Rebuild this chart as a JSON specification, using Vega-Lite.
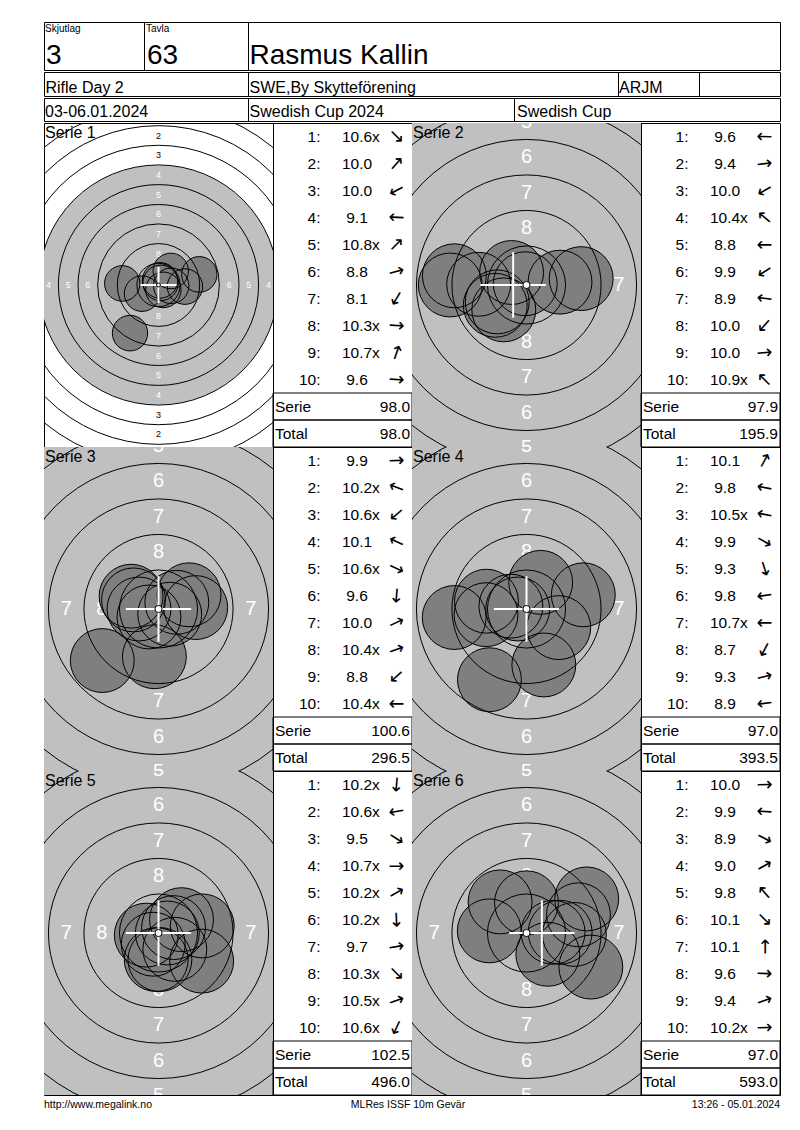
{
  "$schema": "https://vega.github.io/schema/vega-lite/v6.json",
  "description": "MLRes score card: Rasmus Kallin, Swedish Cup 2024, six series of 10m air rifle with shot plots.",
  "padding": {"left": 43, "top": 21, "right": 10, "bottom": 10},
  "spacing": 0,
  "config": {
    "view": {"stroke": "black", "strokeWidth": 1},
    "font": "Liberation Sans",
    "axis": {"disable": true},
    "legend": {"disable": true},
    "text": {"color": "black"}
  },
  "datasets": {
    "disk": [{"r": 15.25}],
    "ten": [{"r": 0.25}],
    "rings": [
      {"ring": 1, "r": 22.75}, {"ring": 2, "r": 20.25}, {"ring": 3, "r": 17.75},
      {"ring": 4, "r": 15.25}, {"ring": 5, "r": 12.75}, {"ring": 6, "r": 10.25},
      {"ring": 7, "r": 7.75}, {"ring": 8, "r": 5.25}, {"ring": 9, "r": 2.75}
    ],
    "labels": [
      {"t": "2", "x": 0, "y": 19, "zone": "paper"}, {"t": "2", "x": 0, "y": -19, "zone": "paper"},
      {"t": "2", "x": -19, "y": 0, "zone": "paper"}, {"t": "2", "x": 19, "y": 0, "zone": "paper"},
      {"t": "3", "x": 0, "y": 16.5, "zone": "paper"}, {"t": "3", "x": 0, "y": -16.5, "zone": "paper"},
      {"t": "3", "x": -16.5, "y": 0, "zone": "paper"}, {"t": "3", "x": 16.5, "y": 0, "zone": "paper"},
      {"t": "4", "x": 0, "y": 14, "zone": "mark"}, {"t": "4", "x": 0, "y": -14, "zone": "mark"},
      {"t": "4", "x": -14, "y": 0, "zone": "mark"}, {"t": "4", "x": 14, "y": 0, "zone": "mark"},
      {"t": "5", "x": 0, "y": 11.5, "zone": "mark"}, {"t": "5", "x": 0, "y": -11.5, "zone": "mark"},
      {"t": "5", "x": -11.5, "y": 0, "zone": "mark"}, {"t": "5", "x": 11.5, "y": 0, "zone": "mark"},
      {"t": "6", "x": 0, "y": 9, "zone": "mark"}, {"t": "6", "x": 0, "y": -9, "zone": "mark"},
      {"t": "6", "x": -9, "y": 0, "zone": "mark"}, {"t": "6", "x": 9, "y": 0, "zone": "mark"},
      {"t": "7", "x": 0, "y": 6.5, "zone": "mark"}, {"t": "7", "x": 0, "y": -6.5, "zone": "mark"},
      {"t": "7", "x": -6.5, "y": 0, "zone": "mark"}, {"t": "7", "x": 6.5, "y": 0, "zone": "mark"},
      {"t": "8", "x": 0, "y": 4, "zone": "mark"}, {"t": "8", "x": 0, "y": -4, "zone": "mark"},
      {"t": "8", "x": -4, "y": 0, "zone": "mark"}, {"t": "8", "x": 4, "y": 0, "zone": "mark"}
    ],
    "series": [
      {"s": 1, "name": "Serie 1", "cx": 0, "cy": 0, "Serie": 98.0, "Total": 98.0},
      {"s": 2, "name": "Serie 2", "cx": -0.94, "cy": 0, "Serie": 97.9, "Total": 195.9},
      {"s": 3, "name": "Serie 3", "cx": 0, "cy": 0, "Serie": 100.6, "Total": 296.5},
      {"s": 4, "name": "Serie 4", "cx": 0, "cy": 0, "Serie": 97.0, "Total": 393.5},
      {"s": 5, "name": "Serie 5", "cx": 0, "cy": 0, "Serie": 102.5, "Total": 496.0},
      {"s": 6, "name": "Serie 6", "cx": 1.08, "cy": 0, "Serie": 97.0, "Total": 593.0}
    ],
    "shots": [
      {"s": 1, "row": "1:", "score": 10.6, "inner": "x", "ang": 45, "x": 0.62, "y": -0.62},
      {"s": 1, "row": "2:", "score": 10.0, "inner": "", "ang": -48.9, "x": 1.56, "y": 1.79},
      {"s": 1, "row": "3:", "score": 10.0, "inner": "", "ang": 152.4, "x": -2.1, "y": -1.1},
      {"s": 1, "row": "4:", "score": 9.1, "inner": "", "ang": -177.5, "x": -4.62, "y": 0.2},
      {"s": 1, "row": "5:", "score": 10.8, "inner": "x", "ang": -45, "x": 0.27, "y": 0.27},
      {"s": 1, "row": "6:", "score": 8.8, "inner": "", "ang": -14.6, "x": 5.2, "y": 1.35},
      {"s": 1, "row": "7:", "score": 8.1, "inner": "", "ang": 120.6, "x": -3.63, "y": -6.13},
      {"s": 1, "row": "8:", "score": 10.3, "inner": "x", "ang": 3.5, "x": 1.62, "y": -0.1},
      {"s": 1, "row": "9:", "score": 10.7, "inner": "x", "ang": -71.3, "x": 0.2, "y": 0.59},
      {"s": 1, "row": "10:", "score": 9.6, "inner": "", "ang": 3.4, "x": 3.37, "y": -0.2},
      {"s": 2, "row": "1:", "score": 9.6, "inner": "", "ang": -179.1, "x": -3.37, "y": 0.05},
      {"s": 2, "row": "2:", "score": 9.4, "inner": "", "ang": -6.7, "x": 3.85, "y": 0.45},
      {"s": 2, "row": "3:", "score": 10.0, "inner": "", "ang": 150, "x": -2.06, "y": -1.19},
      {"s": 2, "row": "4:", "score": 10.4, "inner": "x", "ang": -140, "x": -1.05, "y": 0.88},
      {"s": 2, "row": "5:", "score": 8.8, "inner": "", "ang": 180, "x": -5.37, "y": 0},
      {"s": 2, "row": "6:", "score": 9.9, "inner": "", "ang": 147, "x": -2.2, "y": -1.43},
      {"s": 2, "row": "7:", "score": 8.9, "inner": "", "ang": -172.7, "x": -5.08, "y": 0.65},
      {"s": 2, "row": "8:", "score": 10.0, "inner": "", "ang": 132, "x": -1.6, "y": -1.75},
      {"s": 2, "row": "9:", "score": 10.0, "inner": "", "ang": -4.8, "x": 2.36, "y": 0.2},
      {"s": 2, "row": "10:", "score": 10.9, "inner": "x", "ang": -135, "x": -0.09, "y": 0.09},
      {"s": 3, "row": "1:", "score": 9.9, "inner": "", "ang": -2.2, "x": 2.62, "y": 0.1},
      {"s": 3, "row": "2:", "score": 10.2, "inner": "x", "ang": -160, "x": -1.76, "y": 0.64},
      {"s": 3, "row": "3:", "score": 10.6, "inner": "x", "ang": 140.1, "x": -0.67, "y": -0.56},
      {"s": 3, "row": "4:", "score": 10.1, "inner": "", "ang": -155, "x": -1.93, "y": 0.9},
      {"s": 3, "row": "5:", "score": 10.6, "inner": "x", "ang": 25.1, "x": 0.79, "y": -0.37},
      {"s": 3, "row": "6:", "score": 9.6, "inner": "", "ang": 94.9, "x": -0.29, "y": -3.36},
      {"s": 3, "row": "7:", "score": 10.0, "inner": "", "ang": -24.9, "x": 2.15, "y": 1.0},
      {"s": 3, "row": "8:", "score": 10.4, "inner": "x", "ang": -20, "x": 1.29, "y": 0.47},
      {"s": 3, "row": "9:", "score": 8.8, "inner": "", "ang": 137.5, "x": -3.96, "y": -3.63},
      {"s": 3, "row": "10:", "score": 10.4, "inner": "x", "ang": 180, "x": -1.375, "y": 0},
      {"s": 4, "row": "1:", "score": 10.1, "inner": "", "ang": -61.9, "x": 1.0, "y": 1.875},
      {"s": 4, "row": "2:", "score": 9.8, "inner": "", "ang": -169, "x": -2.82, "y": 0.55},
      {"s": 4, "row": "3:", "score": 10.5, "inner": "x", "ang": -169.7, "x": -1.1, "y": 0.2},
      {"s": 4, "row": "4:", "score": 9.9, "inner": "", "ang": 30, "x": 2.27, "y": -1.31},
      {"s": 4, "row": "5:", "score": 9.3, "inner": "", "ang": 72.8, "x": 1.22, "y": -3.94},
      {"s": 4, "row": "6:", "score": 9.8, "inner": "", "ang": 172, "x": -2.85, "y": -0.4},
      {"s": 4, "row": "7:", "score": 10.7, "inner": "x", "ang": 180, "x": -0.62, "y": 0},
      {"s": 4, "row": "8:", "score": 8.7, "inner": "", "ang": 117.7, "x": -2.61, "y": -4.98},
      {"s": 4, "row": "9:", "score": 9.3, "inner": "", "ang": -14, "x": 4.0, "y": 1.0},
      {"s": 4, "row": "10:", "score": 8.9, "inner": "", "ang": 173.3, "x": -5.09, "y": -0.6},
      {"s": 5, "row": "1:", "score": 10.2, "inner": "x", "ang": 94.9, "x": -0.16, "y": -1.87},
      {"s": 5, "row": "2:", "score": 10.6, "inner": "x", "ang": 170.1, "x": -0.86, "y": -0.15},
      {"s": 5, "row": "3:", "score": 9.5, "inner": "", "ang": 33.1, "x": 3.04, "y": -1.98},
      {"s": 5, "row": "4:", "score": 10.7, "inner": "x", "ang": 0, "x": 0.62, "y": 0},
      {"s": 5, "row": "5:", "score": 10.2, "inner": "x", "ang": -30.1, "x": 1.62, "y": 0.94},
      {"s": 5, "row": "6:", "score": 10.2, "inner": "x", "ang": 86.9, "x": 0.1, "y": -1.87},
      {"s": 5, "row": "7:", "score": 9.7, "inner": "", "ang": -9.2, "x": 3.08, "y": 0.5},
      {"s": 5, "row": "8:", "score": 10.3, "inner": "x", "ang": 45, "x": 1.15, "y": -1.15},
      {"s": 5, "row": "9:", "score": 10.5, "inner": "x", "ang": -19.7, "x": 1.06, "y": 0.38},
      {"s": 5, "row": "10:", "score": 10.6, "inner": "x", "ang": 115.1, "x": -0.37, "y": -0.79},
      {"s": 6, "row": "1:", "score": 10.0, "inner": "", "ang": -1.2, "x": 2.37, "y": 0.05},
      {"s": 6, "row": "2:", "score": 9.9, "inner": "", "ang": -176.7, "x": -2.62, "y": 0.15},
      {"s": 6, "row": "3:", "score": 8.9, "inner": "", "ang": 27.9, "x": 4.53, "y": -2.4},
      {"s": 6, "row": "4:", "score": 9.0, "inner": "", "ang": -29.5, "x": 4.24, "y": 2.4},
      {"s": 6, "row": "5:", "score": 9.8, "inner": "", "ang": -130.3, "x": -1.86, "y": 2.19},
      {"s": 6, "row": "6:", "score": 10.1, "inner": "", "ang": 45, "x": 1.5, "y": -1.5},
      {"s": 6, "row": "7:", "score": 10.1, "inner": "", "ang": -90, "x": 0, "y": 2.125},
      {"s": 6, "row": "8:", "score": 9.6, "inner": "", "ang": 1.7, "x": 3.37, "y": -0.1},
      {"s": 6, "row": "9:", "score": 9.4, "inner": "", "ang": -19.3, "x": 3.66, "y": 1.28},
      {"s": 6, "row": "10:", "score": 10.2, "inner": "x", "ang": -1.5, "x": 1.87, "y": 0.05}
    ]
  },
  "vconcat": [
    {
      "spacing": 0,
      "bounds": "flush",
      "hconcat": [
        {
          "width": 100, "height": 48,
          "data": {"values": [{"label": "Skjutlag", "value": "3"}]},
          "layer": [
            {"mark": {"type": "text", "align": "left", "baseline": "alphabetic", "fontSize": 10}, "encoding": {"text": {"field": "label"}, "x": {"value": 1}, "y": {"value": 10}}},
            {"mark": {"type": "text", "align": "left", "baseline": "alphabetic", "fontSize": 28}, "encoding": {"text": {"field": "value"}, "x": {"value": 2}, "y": {"value": 42}}}
          ]
        },
        {
          "width": 104, "height": 48,
          "data": {"values": [{"label": "Tavla", "value": "63"}]},
          "layer": [
            {"mark": {"type": "text", "align": "left", "baseline": "alphabetic", "fontSize": 10}, "encoding": {"text": {"field": "label"}, "x": {"value": 2}, "y": {"value": 10}}},
            {"mark": {"type": "text", "align": "left", "baseline": "alphabetic", "fontSize": 28}, "encoding": {"text": {"field": "value"}, "x": {"value": 3}, "y": {"value": 42}}}
          ]
        },
        {
          "width": 532, "height": 48,
          "data": {"values": [{"value": "Rasmus Kallin"}]},
          "mark": {"type": "text", "align": "left", "baseline": "alphabetic", "fontSize": 28},
          "encoding": {"text": {"field": "value"}, "x": {"value": 1.5}, "y": {"value": 42}}
        }
      ]
    },
    {
      "spacing": 0,
      "bounds": "flush",
      "hconcat": [
        {"width": 204, "height": 24, "data": {"values": [{"t": "Rifle Day 2"}]}, "mark": {"type": "text", "align": "left", "baseline": "alphabetic", "fontSize": 16}, "encoding": {"text": {"field": "t"}, "x": {"value": 1.5}, "y": {"value": 20.5}}},
        {"width": 370, "height": 24, "data": {"values": [{"t": "SWE,By Skytteförening"}]}, "mark": {"type": "text", "align": "left", "baseline": "alphabetic", "fontSize": 16}, "encoding": {"text": {"field": "t"}, "x": {"value": 1.5}, "y": {"value": 20.5}}},
        {"width": 81, "height": 24, "data": {"values": [{"t": "ARJM"}]}, "mark": {"type": "text", "align": "left", "baseline": "alphabetic", "fontSize": 16}, "encoding": {"text": {"field": "t"}, "x": {"value": 1}, "y": {"value": 20.5}}},
        {"width": 81, "height": 24, "data": {"values": [{"t": ""}]}, "mark": {"type": "text", "align": "left", "baseline": "alphabetic", "fontSize": 16}, "encoding": {"text": {"field": "t"}, "x": {"value": 1}, "y": {"value": 20.5}}}
      ]
    },
    {
      "spacing": 0,
      "bounds": "flush",
      "hconcat": [
        {"width": 204, "height": 23, "data": {"values": [{"t": "03-06.01.2024"}]}, "mark": {"type": "text", "align": "left", "baseline": "alphabetic", "fontSize": 16}, "encoding": {"text": {"field": "t"}, "x": {"value": 1}, "y": {"value": 19}}},
        {"width": 266, "height": 23, "data": {"values": [{"t": "Swedish Cup 2024"}]}, "mark": {"type": "text", "align": "left", "baseline": "alphabetic", "fontSize": 16}, "encoding": {"text": {"field": "t"}, "x": {"value": 1.5}, "y": {"value": 19}}},
        {"width": 266, "height": 23, "data": {"values": [{"t": "Swedish Cup"}]}, "mark": {"type": "text", "align": "left", "baseline": "alphabetic", "fontSize": 16}, "encoding": {"text": {"field": "t"}, "x": {"value": 3}, "y": {"value": 19}}}
      ]
    },
    {
      "columns": 4,
      "spacing": 0,
      "bounds": "flush",
      "resolve": {"scale": {"size": "independent", "color": "independent", "radius": "independent"}},
      "concat": [
        {
          "width": 229, "height": 324,
          "layer": [
            {"data": {"name": "disk"}, "mark": {"type": "arc", "color": "#c0c0c0", "theta": 0, "theta2": 6.2832, "clip": true},
             "encoding": {"radius": {"field": "r", "type": "quantitative", "scale": {"type": "linear", "zero": true, "domain": [0, 10], "range": [0, 78.5]}}}},
            {"data": {"name": "labels"}, "mark": {"type": "text", "fontSize": 9, "align": "center", "baseline": "middle", "clip": true},
             "encoding": {"x": {"field": "x", "type": "quantitative", "scale": {"domain": [-14.586, 14.586], "nice": false, "zero": false}}, "y": {"field": "y", "type": "quantitative", "scale": {"domain": [-20.637, 20.637], "nice": false, "zero": false}}, "text": {"field": "t"}, "color": {"field": "zone", "type": "nominal", "scale": {"domain": ["mark", "paper"], "range": ["#ffffff", "#000000"]}}}},
            {"data": {"name": "shots"}, "transform": [{"filter": "datum.s == 1"}], "mark": {"type": "point", "shape": "circle", "filled": true, "color": "#7f7f7f", "opacity": 1, "strokeWidth": 0, "clip": true},
             "encoding": {"x": {"field": "x", "type": "quantitative"}, "y": {"field": "y", "type": "quantitative"}, "size": {"datum": 2.25, "type": "quantitative", "scale": {"type": "pow", "exponent": 2, "domain": [0, 10], "range": [0, 24649]}}}},
            {"data": {"name": "shots"}, "transform": [{"filter": "datum.s == 1"}], "mark": {"type": "point", "shape": "circle", "filled": false, "color": "black", "opacity": 1, "strokeWidth": 1, "clip": true},
             "encoding": {"x": {"field": "x", "type": "quantitative"}, "y": {"field": "y", "type": "quantitative"}, "size": {"datum": 2.25, "type": "quantitative"}}},
            {"data": {"name": "rings"}, "mark": {"type": "point", "shape": "circle", "filled": false, "color": "black", "opacity": 1, "strokeWidth": 1, "clip": true},
             "encoding": {"x": {"datum": 0, "type": "quantitative"}, "y": {"datum": 0, "type": "quantitative"}, "size": {"field": "r", "type": "quantitative"}}},
            {"data": {"name": "series"}, "transform": [{"filter": "datum.s == 1"}], "mark": {"type": "point", "shape": "M-1,0L1,0M0,-1L0,1", "filled": false, "color": "white", "opacity": 1, "strokeWidth": 2, "clip": true},
             "encoding": {"x": {"field": "cx", "type": "quantitative"}, "y": {"field": "cy", "type": "quantitative"}, "size": {"datum": 2.3, "type": "quantitative"}}},
            {"data": {"name": "ten"}, "mark": {"type": "point", "shape": "circle", "filled": true, "fill": "white", "stroke": "black", "strokeWidth": 1, "opacity": 1, "clip": true},
             "encoding": {"x": {"datum": 0, "type": "quantitative"}, "y": {"datum": 0, "type": "quantitative"}, "size": {"field": "r", "type": "quantitative"}}},
            {"data": {"name": "series"}, "transform": [{"filter": "datum.s == 1"}], "mark": {"type": "text", "align": "left", "baseline": "alphabetic", "fontSize": 16},
             "encoding": {"text": {"field": "name"}, "x": {"value": 1}, "y": {"value": 15}}}
          ]
        },
        {
          "width": 139, "height": 324,
          "layer": [
            {"data": {"name": "shots"}, "transform": [{"filter": "datum.s == 1"}], "mark": {"type": "text", "align": "right", "baseline": "middle", "fontSize": 15.5},
             "encoding": {"y": {"field": "row", "type": "ordinal", "scale": {"type": "band", "domain": ["1:", "2:", "3:", "4:", "5:", "6:", "7:", "8:", "9:", "10:", "Serie", "Total"], "paddingInner": 0, "paddingOuter": 0}}, "x": {"value": 47.5}, "text": {"field": "row"}}},
            {"data": {"name": "shots"}, "transform": [{"filter": "datum.s == 1"}], "mark": {"type": "text", "align": "center", "baseline": "middle", "fontSize": 15.5},
             "encoding": {"y": {"field": "row", "type": "ordinal"}, "x": {"value": 84}, "text": {"field": "score", "type": "quantitative", "format": ".1f"}}},
            {"data": {"name": "shots"}, "transform": [{"filter": "datum.s == 1"}], "mark": {"type": "text", "align": "left", "baseline": "middle", "fontSize": 15.5},
             "encoding": {"y": {"field": "row", "type": "ordinal"}, "x": {"value": 99}, "text": {"field": "inner"}}},
            {"data": {"name": "shots"}, "transform": [{"filter": "datum.s == 1"}], "mark": {"type": "text", "align": "center", "baseline": "middle", "font": "DejaVu Sans", "fontSize": 19},
             "encoding": {"y": {"field": "row", "type": "ordinal"}, "x": {"value": 123.5}, "text": {"value": "→"}, "angle": {"field": "ang", "type": "quantitative", "scale": null}}},
            {"data": {"name": "series"}, "transform": [{"filter": "datum.s == 1"}, {"fold": ["Serie", "Total"], "as": ["row", "val"]}], "mark": {"type": "rect", "fill": "transparent", "stroke": "black", "strokeWidth": 1},
             "encoding": {"y": {"field": "row", "type": "ordinal"}}},
            {"data": {"name": "series"}, "transform": [{"filter": "datum.s == 1"}, {"fold": ["Serie", "Total"], "as": ["row", "val"]}], "mark": {"type": "text", "align": "left", "baseline": "middle", "fontSize": 15.5},
             "encoding": {"y": {"field": "row", "type": "ordinal"}, "x": {"value": 2}, "text": {"field": "row"}}},
            {"data": {"name": "series"}, "transform": [{"filter": "datum.s == 1"}, {"fold": ["Serie", "Total"], "as": ["row", "val"]}], "mark": {"type": "text", "align": "right", "baseline": "middle", "fontSize": 15.5},
             "encoding": {"y": {"field": "row", "type": "ordinal"}, "x": {"value": 137}, "text": {"field": "val", "type": "quantitative", "format": ".1f"}}}
          ]
        },
        {
          "width": 229, "height": 324,
          "view": {"fill": "#c0c0c0"},
          "layer": [
            {"data": {"name": "disk"}, "mark": {"type": "arc", "color": "#c0c0c0", "theta": 0, "theta2": 6.2832, "clip": true},
             "encoding": {"radius": {"field": "r", "type": "quantitative", "scale": {"type": "linear", "zero": true, "domain": [0, 10], "range": [0, 142]}}}},
            {"data": {"name": "labels"}, "mark": {"type": "text", "fontSize": 20, "align": "center", "baseline": "middle", "clip": true},
             "encoding": {"x": {"field": "x", "type": "quantitative", "scale": {"domain": [-8.063, 8.063], "nice": false, "zero": false}}, "y": {"field": "y", "type": "quantitative", "scale": {"domain": [-11.408, 11.408], "nice": false, "zero": false}}, "text": {"field": "t"}, "color": {"field": "zone", "type": "nominal", "scale": {"domain": ["mark", "paper"], "range": ["#ffffff", "#000000"]}}}},
            {"data": {"name": "shots"}, "transform": [{"filter": "datum.s == 2"}], "mark": {"type": "point", "shape": "circle", "filled": true, "color": "#7f7f7f", "opacity": 1, "strokeWidth": 0, "clip": true},
             "encoding": {"x": {"field": "x", "type": "quantitative"}, "y": {"field": "y", "type": "quantitative"}, "size": {"datum": 2.25, "type": "quantitative", "scale": {"type": "pow", "exponent": 2, "domain": [0, 10], "range": [0, 80656]}}}},
            {"data": {"name": "shots"}, "transform": [{"filter": "datum.s == 2"}], "mark": {"type": "point", "shape": "circle", "filled": false, "color": "black", "opacity": 1, "strokeWidth": 1, "clip": true},
             "encoding": {"x": {"field": "x", "type": "quantitative"}, "y": {"field": "y", "type": "quantitative"}, "size": {"datum": 2.25, "type": "quantitative"}}},
            {"data": {"name": "rings"}, "mark": {"type": "point", "shape": "circle", "filled": false, "color": "black", "opacity": 1, "strokeWidth": 1, "clip": true},
             "encoding": {"x": {"datum": 0, "type": "quantitative"}, "y": {"datum": 0, "type": "quantitative"}, "size": {"field": "r", "type": "quantitative"}}},
            {"data": {"name": "series"}, "transform": [{"filter": "datum.s == 2"}], "mark": {"type": "point", "shape": "M-1,0L1,0M0,-1L0,1", "filled": false, "color": "white", "opacity": 1, "strokeWidth": 2, "clip": true},
             "encoding": {"x": {"field": "cx", "type": "quantitative"}, "y": {"field": "cy", "type": "quantitative"}, "size": {"datum": 2.3, "type": "quantitative"}}},
            {"data": {"name": "ten"}, "mark": {"type": "point", "shape": "circle", "filled": true, "fill": "white", "stroke": "black", "strokeWidth": 1, "opacity": 1, "clip": true},
             "encoding": {"x": {"datum": 0, "type": "quantitative"}, "y": {"datum": 0, "type": "quantitative"}, "size": {"field": "r", "type": "quantitative"}}},
            {"data": {"name": "series"}, "transform": [{"filter": "datum.s == 2"}], "mark": {"type": "text", "align": "left", "baseline": "alphabetic", "fontSize": 16},
             "encoding": {"text": {"field": "name"}, "x": {"value": 1}, "y": {"value": 15}}}
          ]
        },
        {
          "width": 139, "height": 324,
          "layer": [
            {"data": {"name": "shots"}, "transform": [{"filter": "datum.s == 2"}], "mark": {"type": "text", "align": "right", "baseline": "middle", "fontSize": 15.5},
             "encoding": {"y": {"field": "row", "type": "ordinal", "scale": {"type": "band", "domain": ["1:", "2:", "3:", "4:", "5:", "6:", "7:", "8:", "9:", "10:", "Serie", "Total"], "paddingInner": 0, "paddingOuter": 0}}, "x": {"value": 47.5}, "text": {"field": "row"}}},
            {"data": {"name": "shots"}, "transform": [{"filter": "datum.s == 2"}], "mark": {"type": "text", "align": "center", "baseline": "middle", "fontSize": 15.5},
             "encoding": {"y": {"field": "row", "type": "ordinal"}, "x": {"value": 84}, "text": {"field": "score", "type": "quantitative", "format": ".1f"}}},
            {"data": {"name": "shots"}, "transform": [{"filter": "datum.s == 2"}], "mark": {"type": "text", "align": "left", "baseline": "middle", "fontSize": 15.5},
             "encoding": {"y": {"field": "row", "type": "ordinal"}, "x": {"value": 99}, "text": {"field": "inner"}}},
            {"data": {"name": "shots"}, "transform": [{"filter": "datum.s == 2"}], "mark": {"type": "text", "align": "center", "baseline": "middle", "font": "DejaVu Sans", "fontSize": 19},
             "encoding": {"y": {"field": "row", "type": "ordinal"}, "x": {"value": 123.5}, "text": {"value": "→"}, "angle": {"field": "ang", "type": "quantitative", "scale": null}}},
            {"data": {"name": "series"}, "transform": [{"filter": "datum.s == 2"}, {"fold": ["Serie", "Total"], "as": ["row", "val"]}], "mark": {"type": "rect", "fill": "transparent", "stroke": "black", "strokeWidth": 1},
             "encoding": {"y": {"field": "row", "type": "ordinal"}}},
            {"data": {"name": "series"}, "transform": [{"filter": "datum.s == 2"}, {"fold": ["Serie", "Total"], "as": ["row", "val"]}], "mark": {"type": "text", "align": "left", "baseline": "middle", "fontSize": 15.5},
             "encoding": {"y": {"field": "row", "type": "ordinal"}, "x": {"value": 2}, "text": {"field": "row"}}},
            {"data": {"name": "series"}, "transform": [{"filter": "datum.s == 2"}, {"fold": ["Serie", "Total"], "as": ["row", "val"]}], "mark": {"type": "text", "align": "right", "baseline": "middle", "fontSize": 15.5},
             "encoding": {"y": {"field": "row", "type": "ordinal"}, "x": {"value": 137}, "text": {"field": "val", "type": "quantitative", "format": ".1f"}}}
          ]
        },
        {
          "width": 229, "height": 324,
          "view": {"fill": "#c0c0c0"},
          "layer": [
            {"data": {"name": "disk"}, "mark": {"type": "arc", "color": "#c0c0c0", "theta": 0, "theta2": 6.2832, "clip": true},
             "encoding": {"radius": {"field": "r", "type": "quantitative", "scale": {"type": "linear", "zero": true, "domain": [0, 10], "range": [0, 142]}}}},
            {"data": {"name": "labels"}, "mark": {"type": "text", "fontSize": 20, "align": "center", "baseline": "middle", "clip": true},
             "encoding": {"x": {"field": "x", "type": "quantitative", "scale": {"domain": [-8.063, 8.063], "nice": false, "zero": false}}, "y": {"field": "y", "type": "quantitative", "scale": {"domain": [-11.408, 11.408], "nice": false, "zero": false}}, "text": {"field": "t"}, "color": {"field": "zone", "type": "nominal", "scale": {"domain": ["mark", "paper"], "range": ["#ffffff", "#000000"]}}}},
            {"data": {"name": "shots"}, "transform": [{"filter": "datum.s == 3"}], "mark": {"type": "point", "shape": "circle", "filled": true, "color": "#7f7f7f", "opacity": 1, "strokeWidth": 0, "clip": true},
             "encoding": {"x": {"field": "x", "type": "quantitative"}, "y": {"field": "y", "type": "quantitative"}, "size": {"datum": 2.25, "type": "quantitative", "scale": {"type": "pow", "exponent": 2, "domain": [0, 10], "range": [0, 80656]}}}},
            {"data": {"name": "shots"}, "transform": [{"filter": "datum.s == 3"}], "mark": {"type": "point", "shape": "circle", "filled": false, "color": "black", "opacity": 1, "strokeWidth": 1, "clip": true},
             "encoding": {"x": {"field": "x", "type": "quantitative"}, "y": {"field": "y", "type": "quantitative"}, "size": {"datum": 2.25, "type": "quantitative"}}},
            {"data": {"name": "rings"}, "mark": {"type": "point", "shape": "circle", "filled": false, "color": "black", "opacity": 1, "strokeWidth": 1, "clip": true},
             "encoding": {"x": {"datum": 0, "type": "quantitative"}, "y": {"datum": 0, "type": "quantitative"}, "size": {"field": "r", "type": "quantitative"}}},
            {"data": {"name": "series"}, "transform": [{"filter": "datum.s == 3"}], "mark": {"type": "point", "shape": "M-1,0L1,0M0,-1L0,1", "filled": false, "color": "white", "opacity": 1, "strokeWidth": 2, "clip": true},
             "encoding": {"x": {"field": "cx", "type": "quantitative"}, "y": {"field": "cy", "type": "quantitative"}, "size": {"datum": 2.3, "type": "quantitative"}}},
            {"data": {"name": "ten"}, "mark": {"type": "point", "shape": "circle", "filled": true, "fill": "white", "stroke": "black", "strokeWidth": 1, "opacity": 1, "clip": true},
             "encoding": {"x": {"datum": 0, "type": "quantitative"}, "y": {"datum": 0, "type": "quantitative"}, "size": {"field": "r", "type": "quantitative"}}},
            {"data": {"name": "series"}, "transform": [{"filter": "datum.s == 3"}], "mark": {"type": "text", "align": "left", "baseline": "alphabetic", "fontSize": 16},
             "encoding": {"text": {"field": "name"}, "x": {"value": 1}, "y": {"value": 15}}}
          ]
        },
        {
          "width": 139, "height": 324,
          "layer": [
            {"data": {"name": "shots"}, "transform": [{"filter": "datum.s == 3"}], "mark": {"type": "text", "align": "right", "baseline": "middle", "fontSize": 15.5},
             "encoding": {"y": {"field": "row", "type": "ordinal", "scale": {"type": "band", "domain": ["1:", "2:", "3:", "4:", "5:", "6:", "7:", "8:", "9:", "10:", "Serie", "Total"], "paddingInner": 0, "paddingOuter": 0}}, "x": {"value": 47.5}, "text": {"field": "row"}}},
            {"data": {"name": "shots"}, "transform": [{"filter": "datum.s == 3"}], "mark": {"type": "text", "align": "center", "baseline": "middle", "fontSize": 15.5},
             "encoding": {"y": {"field": "row", "type": "ordinal"}, "x": {"value": 84}, "text": {"field": "score", "type": "quantitative", "format": ".1f"}}},
            {"data": {"name": "shots"}, "transform": [{"filter": "datum.s == 3"}], "mark": {"type": "text", "align": "left", "baseline": "middle", "fontSize": 15.5},
             "encoding": {"y": {"field": "row", "type": "ordinal"}, "x": {"value": 99}, "text": {"field": "inner"}}},
            {"data": {"name": "shots"}, "transform": [{"filter": "datum.s == 3"}], "mark": {"type": "text", "align": "center", "baseline": "middle", "font": "DejaVu Sans", "fontSize": 19},
             "encoding": {"y": {"field": "row", "type": "ordinal"}, "x": {"value": 123.5}, "text": {"value": "→"}, "angle": {"field": "ang", "type": "quantitative", "scale": null}}},
            {"data": {"name": "series"}, "transform": [{"filter": "datum.s == 3"}, {"fold": ["Serie", "Total"], "as": ["row", "val"]}], "mark": {"type": "rect", "fill": "transparent", "stroke": "black", "strokeWidth": 1},
             "encoding": {"y": {"field": "row", "type": "ordinal"}}},
            {"data": {"name": "series"}, "transform": [{"filter": "datum.s == 3"}, {"fold": ["Serie", "Total"], "as": ["row", "val"]}], "mark": {"type": "text", "align": "left", "baseline": "middle", "fontSize": 15.5},
             "encoding": {"y": {"field": "row", "type": "ordinal"}, "x": {"value": 2}, "text": {"field": "row"}}},
            {"data": {"name": "series"}, "transform": [{"filter": "datum.s == 3"}, {"fold": ["Serie", "Total"], "as": ["row", "val"]}], "mark": {"type": "text", "align": "right", "baseline": "middle", "fontSize": 15.5},
             "encoding": {"y": {"field": "row", "type": "ordinal"}, "x": {"value": 137}, "text": {"field": "val", "type": "quantitative", "format": ".1f"}}}
          ]
        },
        {
          "width": 229, "height": 324,
          "view": {"fill": "#c0c0c0"},
          "layer": [
            {"data": {"name": "disk"}, "mark": {"type": "arc", "color": "#c0c0c0", "theta": 0, "theta2": 6.2832, "clip": true},
             "encoding": {"radius": {"field": "r", "type": "quantitative", "scale": {"type": "linear", "zero": true, "domain": [0, 10], "range": [0, 142]}}}},
            {"data": {"name": "labels"}, "mark": {"type": "text", "fontSize": 20, "align": "center", "baseline": "middle", "clip": true},
             "encoding": {"x": {"field": "x", "type": "quantitative", "scale": {"domain": [-8.063, 8.063], "nice": false, "zero": false}}, "y": {"field": "y", "type": "quantitative", "scale": {"domain": [-11.408, 11.408], "nice": false, "zero": false}}, "text": {"field": "t"}, "color": {"field": "zone", "type": "nominal", "scale": {"domain": ["mark", "paper"], "range": ["#ffffff", "#000000"]}}}},
            {"data": {"name": "shots"}, "transform": [{"filter": "datum.s == 4"}], "mark": {"type": "point", "shape": "circle", "filled": true, "color": "#7f7f7f", "opacity": 1, "strokeWidth": 0, "clip": true},
             "encoding": {"x": {"field": "x", "type": "quantitative"}, "y": {"field": "y", "type": "quantitative"}, "size": {"datum": 2.25, "type": "quantitative", "scale": {"type": "pow", "exponent": 2, "domain": [0, 10], "range": [0, 80656]}}}},
            {"data": {"name": "shots"}, "transform": [{"filter": "datum.s == 4"}], "mark": {"type": "point", "shape": "circle", "filled": false, "color": "black", "opacity": 1, "strokeWidth": 1, "clip": true},
             "encoding": {"x": {"field": "x", "type": "quantitative"}, "y": {"field": "y", "type": "quantitative"}, "size": {"datum": 2.25, "type": "quantitative"}}},
            {"data": {"name": "rings"}, "mark": {"type": "point", "shape": "circle", "filled": false, "color": "black", "opacity": 1, "strokeWidth": 1, "clip": true},
             "encoding": {"x": {"datum": 0, "type": "quantitative"}, "y": {"datum": 0, "type": "quantitative"}, "size": {"field": "r", "type": "quantitative"}}},
            {"data": {"name": "series"}, "transform": [{"filter": "datum.s == 4"}], "mark": {"type": "point", "shape": "M-1,0L1,0M0,-1L0,1", "filled": false, "color": "white", "opacity": 1, "strokeWidth": 2, "clip": true},
             "encoding": {"x": {"field": "cx", "type": "quantitative"}, "y": {"field": "cy", "type": "quantitative"}, "size": {"datum": 2.3, "type": "quantitative"}}},
            {"data": {"name": "ten"}, "mark": {"type": "point", "shape": "circle", "filled": true, "fill": "white", "stroke": "black", "strokeWidth": 1, "opacity": 1, "clip": true},
             "encoding": {"x": {"datum": 0, "type": "quantitative"}, "y": {"datum": 0, "type": "quantitative"}, "size": {"field": "r", "type": "quantitative"}}},
            {"data": {"name": "series"}, "transform": [{"filter": "datum.s == 4"}], "mark": {"type": "text", "align": "left", "baseline": "alphabetic", "fontSize": 16},
             "encoding": {"text": {"field": "name"}, "x": {"value": 1}, "y": {"value": 15}}}
          ]
        },
        {
          "width": 139, "height": 324,
          "layer": [
            {"data": {"name": "shots"}, "transform": [{"filter": "datum.s == 4"}], "mark": {"type": "text", "align": "right", "baseline": "middle", "fontSize": 15.5},
             "encoding": {"y": {"field": "row", "type": "ordinal", "scale": {"type": "band", "domain": ["1:", "2:", "3:", "4:", "5:", "6:", "7:", "8:", "9:", "10:", "Serie", "Total"], "paddingInner": 0, "paddingOuter": 0}}, "x": {"value": 47.5}, "text": {"field": "row"}}},
            {"data": {"name": "shots"}, "transform": [{"filter": "datum.s == 4"}], "mark": {"type": "text", "align": "center", "baseline": "middle", "fontSize": 15.5},
             "encoding": {"y": {"field": "row", "type": "ordinal"}, "x": {"value": 84}, "text": {"field": "score", "type": "quantitative", "format": ".1f"}}},
            {"data": {"name": "shots"}, "transform": [{"filter": "datum.s == 4"}], "mark": {"type": "text", "align": "left", "baseline": "middle", "fontSize": 15.5},
             "encoding": {"y": {"field": "row", "type": "ordinal"}, "x": {"value": 99}, "text": {"field": "inner"}}},
            {"data": {"name": "shots"}, "transform": [{"filter": "datum.s == 4"}], "mark": {"type": "text", "align": "center", "baseline": "middle", "font": "DejaVu Sans", "fontSize": 19},
             "encoding": {"y": {"field": "row", "type": "ordinal"}, "x": {"value": 123.5}, "text": {"value": "→"}, "angle": {"field": "ang", "type": "quantitative", "scale": null}}},
            {"data": {"name": "series"}, "transform": [{"filter": "datum.s == 4"}, {"fold": ["Serie", "Total"], "as": ["row", "val"]}], "mark": {"type": "rect", "fill": "transparent", "stroke": "black", "strokeWidth": 1},
             "encoding": {"y": {"field": "row", "type": "ordinal"}}},
            {"data": {"name": "series"}, "transform": [{"filter": "datum.s == 4"}, {"fold": ["Serie", "Total"], "as": ["row", "val"]}], "mark": {"type": "text", "align": "left", "baseline": "middle", "fontSize": 15.5},
             "encoding": {"y": {"field": "row", "type": "ordinal"}, "x": {"value": 2}, "text": {"field": "row"}}},
            {"data": {"name": "series"}, "transform": [{"filter": "datum.s == 4"}, {"fold": ["Serie", "Total"], "as": ["row", "val"]}], "mark": {"type": "text", "align": "right", "baseline": "middle", "fontSize": 15.5},
             "encoding": {"y": {"field": "row", "type": "ordinal"}, "x": {"value": 137}, "text": {"field": "val", "type": "quantitative", "format": ".1f"}}}
          ]
        },
        {
          "width": 229, "height": 324,
          "view": {"fill": "#c0c0c0"},
          "layer": [
            {"data": {"name": "disk"}, "mark": {"type": "arc", "color": "#c0c0c0", "theta": 0, "theta2": 6.2832, "clip": true},
             "encoding": {"radius": {"field": "r", "type": "quantitative", "scale": {"type": "linear", "zero": true, "domain": [0, 10], "range": [0, 142]}}}},
            {"data": {"name": "labels"}, "mark": {"type": "text", "fontSize": 20, "align": "center", "baseline": "middle", "clip": true},
             "encoding": {"x": {"field": "x", "type": "quantitative", "scale": {"domain": [-8.063, 8.063], "nice": false, "zero": false}}, "y": {"field": "y", "type": "quantitative", "scale": {"domain": [-11.408, 11.408], "nice": false, "zero": false}}, "text": {"field": "t"}, "color": {"field": "zone", "type": "nominal", "scale": {"domain": ["mark", "paper"], "range": ["#ffffff", "#000000"]}}}},
            {"data": {"name": "shots"}, "transform": [{"filter": "datum.s == 5"}], "mark": {"type": "point", "shape": "circle", "filled": true, "color": "#7f7f7f", "opacity": 1, "strokeWidth": 0, "clip": true},
             "encoding": {"x": {"field": "x", "type": "quantitative"}, "y": {"field": "y", "type": "quantitative"}, "size": {"datum": 2.25, "type": "quantitative", "scale": {"type": "pow", "exponent": 2, "domain": [0, 10], "range": [0, 80656]}}}},
            {"data": {"name": "shots"}, "transform": [{"filter": "datum.s == 5"}], "mark": {"type": "point", "shape": "circle", "filled": false, "color": "black", "opacity": 1, "strokeWidth": 1, "clip": true},
             "encoding": {"x": {"field": "x", "type": "quantitative"}, "y": {"field": "y", "type": "quantitative"}, "size": {"datum": 2.25, "type": "quantitative"}}},
            {"data": {"name": "rings"}, "mark": {"type": "point", "shape": "circle", "filled": false, "color": "black", "opacity": 1, "strokeWidth": 1, "clip": true},
             "encoding": {"x": {"datum": 0, "type": "quantitative"}, "y": {"datum": 0, "type": "quantitative"}, "size": {"field": "r", "type": "quantitative"}}},
            {"data": {"name": "series"}, "transform": [{"filter": "datum.s == 5"}], "mark": {"type": "point", "shape": "M-1,0L1,0M0,-1L0,1", "filled": false, "color": "white", "opacity": 1, "strokeWidth": 2, "clip": true},
             "encoding": {"x": {"field": "cx", "type": "quantitative"}, "y": {"field": "cy", "type": "quantitative"}, "size": {"datum": 2.3, "type": "quantitative"}}},
            {"data": {"name": "ten"}, "mark": {"type": "point", "shape": "circle", "filled": true, "fill": "white", "stroke": "black", "strokeWidth": 1, "opacity": 1, "clip": true},
             "encoding": {"x": {"datum": 0, "type": "quantitative"}, "y": {"datum": 0, "type": "quantitative"}, "size": {"field": "r", "type": "quantitative"}}},
            {"data": {"name": "series"}, "transform": [{"filter": "datum.s == 5"}], "mark": {"type": "text", "align": "left", "baseline": "alphabetic", "fontSize": 16},
             "encoding": {"text": {"field": "name"}, "x": {"value": 1}, "y": {"value": 15}}}
          ]
        },
        {
          "width": 139, "height": 324,
          "layer": [
            {"data": {"name": "shots"}, "transform": [{"filter": "datum.s == 5"}], "mark": {"type": "text", "align": "right", "baseline": "middle", "fontSize": 15.5},
             "encoding": {"y": {"field": "row", "type": "ordinal", "scale": {"type": "band", "domain": ["1:", "2:", "3:", "4:", "5:", "6:", "7:", "8:", "9:", "10:", "Serie", "Total"], "paddingInner": 0, "paddingOuter": 0}}, "x": {"value": 47.5}, "text": {"field": "row"}}},
            {"data": {"name": "shots"}, "transform": [{"filter": "datum.s == 5"}], "mark": {"type": "text", "align": "center", "baseline": "middle", "fontSize": 15.5},
             "encoding": {"y": {"field": "row", "type": "ordinal"}, "x": {"value": 84}, "text": {"field": "score", "type": "quantitative", "format": ".1f"}}},
            {"data": {"name": "shots"}, "transform": [{"filter": "datum.s == 5"}], "mark": {"type": "text", "align": "left", "baseline": "middle", "fontSize": 15.5},
             "encoding": {"y": {"field": "row", "type": "ordinal"}, "x": {"value": 99}, "text": {"field": "inner"}}},
            {"data": {"name": "shots"}, "transform": [{"filter": "datum.s == 5"}], "mark": {"type": "text", "align": "center", "baseline": "middle", "font": "DejaVu Sans", "fontSize": 19},
             "encoding": {"y": {"field": "row", "type": "ordinal"}, "x": {"value": 123.5}, "text": {"value": "→"}, "angle": {"field": "ang", "type": "quantitative", "scale": null}}},
            {"data": {"name": "series"}, "transform": [{"filter": "datum.s == 5"}, {"fold": ["Serie", "Total"], "as": ["row", "val"]}], "mark": {"type": "rect", "fill": "transparent", "stroke": "black", "strokeWidth": 1},
             "encoding": {"y": {"field": "row", "type": "ordinal"}}},
            {"data": {"name": "series"}, "transform": [{"filter": "datum.s == 5"}, {"fold": ["Serie", "Total"], "as": ["row", "val"]}], "mark": {"type": "text", "align": "left", "baseline": "middle", "fontSize": 15.5},
             "encoding": {"y": {"field": "row", "type": "ordinal"}, "x": {"value": 2}, "text": {"field": "row"}}},
            {"data": {"name": "series"}, "transform": [{"filter": "datum.s == 5"}, {"fold": ["Serie", "Total"], "as": ["row", "val"]}], "mark": {"type": "text", "align": "right", "baseline": "middle", "fontSize": 15.5},
             "encoding": {"y": {"field": "row", "type": "ordinal"}, "x": {"value": 137}, "text": {"field": "val", "type": "quantitative", "format": ".1f"}}}
          ]
        },
        {
          "width": 229, "height": 324,
          "view": {"fill": "#c0c0c0"},
          "layer": [
            {"data": {"name": "disk"}, "mark": {"type": "arc", "color": "#c0c0c0", "theta": 0, "theta2": 6.2832, "clip": true},
             "encoding": {"radius": {"field": "r", "type": "quantitative", "scale": {"type": "linear", "zero": true, "domain": [0, 10], "range": [0, 142]}}}},
            {"data": {"name": "labels"}, "mark": {"type": "text", "fontSize": 20, "align": "center", "baseline": "middle", "clip": true},
             "encoding": {"x": {"field": "x", "type": "quantitative", "scale": {"domain": [-8.063, 8.063], "nice": false, "zero": false}}, "y": {"field": "y", "type": "quantitative", "scale": {"domain": [-11.408, 11.408], "nice": false, "zero": false}}, "text": {"field": "t"}, "color": {"field": "zone", "type": "nominal", "scale": {"domain": ["mark", "paper"], "range": ["#ffffff", "#000000"]}}}},
            {"data": {"name": "shots"}, "transform": [{"filter": "datum.s == 6"}], "mark": {"type": "point", "shape": "circle", "filled": true, "color": "#7f7f7f", "opacity": 1, "strokeWidth": 0, "clip": true},
             "encoding": {"x": {"field": "x", "type": "quantitative"}, "y": {"field": "y", "type": "quantitative"}, "size": {"datum": 2.25, "type": "quantitative", "scale": {"type": "pow", "exponent": 2, "domain": [0, 10], "range": [0, 80656]}}}},
            {"data": {"name": "shots"}, "transform": [{"filter": "datum.s == 6"}], "mark": {"type": "point", "shape": "circle", "filled": false, "color": "black", "opacity": 1, "strokeWidth": 1, "clip": true},
             "encoding": {"x": {"field": "x", "type": "quantitative"}, "y": {"field": "y", "type": "quantitative"}, "size": {"datum": 2.25, "type": "quantitative"}}},
            {"data": {"name": "rings"}, "mark": {"type": "point", "shape": "circle", "filled": false, "color": "black", "opacity": 1, "strokeWidth": 1, "clip": true},
             "encoding": {"x": {"datum": 0, "type": "quantitative"}, "y": {"datum": 0, "type": "quantitative"}, "size": {"field": "r", "type": "quantitative"}}},
            {"data": {"name": "series"}, "transform": [{"filter": "datum.s == 6"}], "mark": {"type": "point", "shape": "M-1,0L1,0M0,-1L0,1", "filled": false, "color": "white", "opacity": 1, "strokeWidth": 2, "clip": true},
             "encoding": {"x": {"field": "cx", "type": "quantitative"}, "y": {"field": "cy", "type": "quantitative"}, "size": {"datum": 2.3, "type": "quantitative"}}},
            {"data": {"name": "ten"}, "mark": {"type": "point", "shape": "circle", "filled": true, "fill": "white", "stroke": "black", "strokeWidth": 1, "opacity": 1, "clip": true},
             "encoding": {"x": {"datum": 0, "type": "quantitative"}, "y": {"datum": 0, "type": "quantitative"}, "size": {"field": "r", "type": "quantitative"}}},
            {"data": {"name": "series"}, "transform": [{"filter": "datum.s == 6"}], "mark": {"type": "text", "align": "left", "baseline": "alphabetic", "fontSize": 16},
             "encoding": {"text": {"field": "name"}, "x": {"value": 1}, "y": {"value": 15}}}
          ]
        },
        {
          "width": 139, "height": 324,
          "layer": [
            {"data": {"name": "shots"}, "transform": [{"filter": "datum.s == 6"}], "mark": {"type": "text", "align": "right", "baseline": "middle", "fontSize": 15.5},
             "encoding": {"y": {"field": "row", "type": "ordinal", "scale": {"type": "band", "domain": ["1:", "2:", "3:", "4:", "5:", "6:", "7:", "8:", "9:", "10:", "Serie", "Total"], "paddingInner": 0, "paddingOuter": 0}}, "x": {"value": 47.5}, "text": {"field": "row"}}},
            {"data": {"name": "shots"}, "transform": [{"filter": "datum.s == 6"}], "mark": {"type": "text", "align": "center", "baseline": "middle", "fontSize": 15.5},
             "encoding": {"y": {"field": "row", "type": "ordinal"}, "x": {"value": 84}, "text": {"field": "score", "type": "quantitative", "format": ".1f"}}},
            {"data": {"name": "shots"}, "transform": [{"filter": "datum.s == 6"}], "mark": {"type": "text", "align": "left", "baseline": "middle", "fontSize": 15.5},
             "encoding": {"y": {"field": "row", "type": "ordinal"}, "x": {"value": 99}, "text": {"field": "inner"}}},
            {"data": {"name": "shots"}, "transform": [{"filter": "datum.s == 6"}], "mark": {"type": "text", "align": "center", "baseline": "middle", "font": "DejaVu Sans", "fontSize": 19},
             "encoding": {"y": {"field": "row", "type": "ordinal"}, "x": {"value": 123.5}, "text": {"value": "→"}, "angle": {"field": "ang", "type": "quantitative", "scale": null}}},
            {"data": {"name": "series"}, "transform": [{"filter": "datum.s == 6"}, {"fold": ["Serie", "Total"], "as": ["row", "val"]}], "mark": {"type": "rect", "fill": "transparent", "stroke": "black", "strokeWidth": 1},
             "encoding": {"y": {"field": "row", "type": "ordinal"}}},
            {"data": {"name": "series"}, "transform": [{"filter": "datum.s == 6"}, {"fold": ["Serie", "Total"], "as": ["row", "val"]}], "mark": {"type": "text", "align": "left", "baseline": "middle", "fontSize": 15.5},
             "encoding": {"y": {"field": "row", "type": "ordinal"}, "x": {"value": 2}, "text": {"field": "row"}}},
            {"data": {"name": "series"}, "transform": [{"filter": "datum.s == 6"}, {"fold": ["Serie", "Total"], "as": ["row", "val"]}], "mark": {"type": "text", "align": "right", "baseline": "middle", "fontSize": 15.5},
             "encoding": {"y": {"field": "row", "type": "ordinal"}, "x": {"value": 137}, "text": {"field": "val", "type": "quantitative", "format": ".1f"}}}
          ]
        }
      ]
    },
    {
      "width": 736, "height": 20,
      "view": {"stroke": null},
      "data": {"values": [{"site": "http://www.megalink.no", "prog": "MLRes ISSF 10m Gevär", "stamp": "13:26 - 05.01.2024"}]},
      "layer": [
        {"mark": {"type": "text", "align": "left", "baseline": "middle", "fontSize": 10.5}, "encoding": {"text": {"field": "site"}, "x": {"value": 0}, "y": {"value": 9}}},
        {"mark": {"type": "text", "align": "center", "baseline": "middle", "fontSize": 10.5}, "encoding": {"text": {"field": "prog"}, "x": {"value": 364}, "y": {"value": 9}}},
        {"mark": {"type": "text", "align": "right", "baseline": "middle", "fontSize": 10.5}, "encoding": {"text": {"field": "stamp"}, "x": {"value": 736}, "y": {"value": 9}}}
      ]
    }
  ]
}
